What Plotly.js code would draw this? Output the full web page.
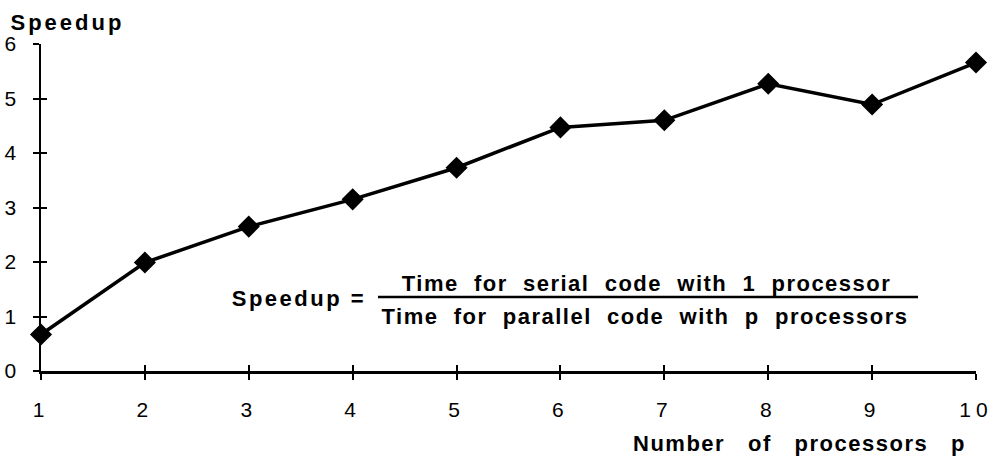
<!DOCTYPE html>
<html>
<head>
<meta charset="utf-8">
<script src="https://cdn.plot.ly/plotly-3.0.1.min.js"></script>
<style>
html,body{margin:0;padding:0;background:#fff;}
#chart{width:995px;height:463px;}
#chart .annotation-text{letter-spacing:1.5px;}
#chart g.annotation[data-index="0"] .annotation-text{letter-spacing:3px;}
#chart g.annotation[data-index="2"] .annotation-text{letter-spacing:2.5px;}
#chart .xtick text{letter-spacing:5px;}
</style>
</head>
<body>
<div id="chart"></div>
<script>
// Data
const processors = [1, 2, 3, 4, 5, 6, 7, 8, 9, 10];
const speedup = [0.67, 1.99, 2.65, 3.15, 3.73, 4.47, 4.6, 5.27, 4.89, 5.66];
const yTicks = [0, 1, 2, 3, 4, 5, 6];
const xTicks = processors;

const W = 995, H = 463;
const mL = 41, mR = 19, mT = 44, mB = 92;
const pw = W - mL - mR, ph = H - mT - mB;
const px = v => (v - mL) / pw;       // pixel x -> paper
const py = v => (H - mB - v) / ph;   // pixel y -> paper

const font = 'Arial, "Liberation Sans", Helvetica, sans-serif';
const lab = {family: font, size: 22, color: '#000'};

const trace = {
  x: processors, y: speedup, type: 'scatter', mode: 'lines+markers',
  line: {color: '#000', width: 3.5},
  marker: {symbol: 'diamond', size: 17, color: '#000'},
  cliponaxis: false, hoverinfo: 'skip'
};

const baseAxis = {
  showgrid: false, zeroline: false, showline: true, linecolor: '#000', linewidth: 2.5,
  ticks: 'outside', ticklen: 6, tickwidth: 2, tickcolor: '#000',
  tickfont: {family: font, size: 21, color: '#000'}
};

const layout = {
  width: W, height: H,
  margin: {l: mL, r: mR, t: mT, b: mB},
  paper_bgcolor: '#fff', plot_bgcolor: '#fff',
  showlegend: false,
  xaxis: Object.assign({}, baseAxis, {range: [1, 10], tickvals: xTicks, ticktext: xTicks.map(String), ticklabelstandoff: 12}),
  yaxis: Object.assign({}, baseAxis, {range: [0, 6], tickvals: yTicks, ticktext: yTicks.map(String), ticklabelstandoff: 12}),
  xaxis2: {overlaying: 'x', range: [1, 10], tickvals: xTicks, ticks: 'inside', ticklen: 6, tickwidth: 2, tickcolor: '#000', showticklabels: false, showgrid: false, zeroline: false, showline: false, side: 'bottom'},
  yaxis2: {overlaying: 'y', range: [0, 6], tickvals: yTicks, ticks: 'inside', ticklen: 6, tickwidth: 2, tickcolor: '#000', showticklabels: false, showgrid: false, zeroline: false, showline: false, side: 'left'},
  annotations: [
    {text: '<b>Speedup</b>', xref: 'paper', yref: 'paper', x: px(19), y: py(22), xanchor: 'left', yanchor: 'middle', showarrow: false, font: lab},
    {text: '<b>Number   of   processors   p</b>', xref: 'paper', yref: 'paper', x: px(947), y: py(443), xanchor: 'right', yanchor: 'middle', showarrow: false, font: lab},
    {text: '<b>Speedup =</b>', xref: 'paper', yref: 'paper', x: px(357), y: py(298), xanchor: 'right', yanchor: 'middle', showarrow: false, font: lab},
    {text: '<b>Time  for  serial  code  with  1  processor</b>', xref: 'paper', yref: 'paper', x: px(647), y: py(283), xanchor: 'center', yanchor: 'middle', showarrow: false, font: lab},
    {text: '<b>Time  for  parallel  code  with  p  processors</b>', xref: 'paper', yref: 'paper', x: px(645), y: py(316), xanchor: 'center', yanchor: 'middle', showarrow: false, font: lab}
  ],
  shapes: [
    {type: 'line', xref: 'paper', yref: 'paper', x0: px(378), x1: px(918), y0: py(297), y1: py(297), line: {color: '#000', width: 2.5}}
  ]
};

const dummy = {x: [1], y: [0], xaxis: 'x2', yaxis: 'y2', mode: 'markers', marker: {opacity: 0}, hoverinfo: 'skip'};

Plotly.newPlot('chart', [trace, dummy], layout, {displayModeBar: false, staticPlot: true});
</script>
</body>
</html>
